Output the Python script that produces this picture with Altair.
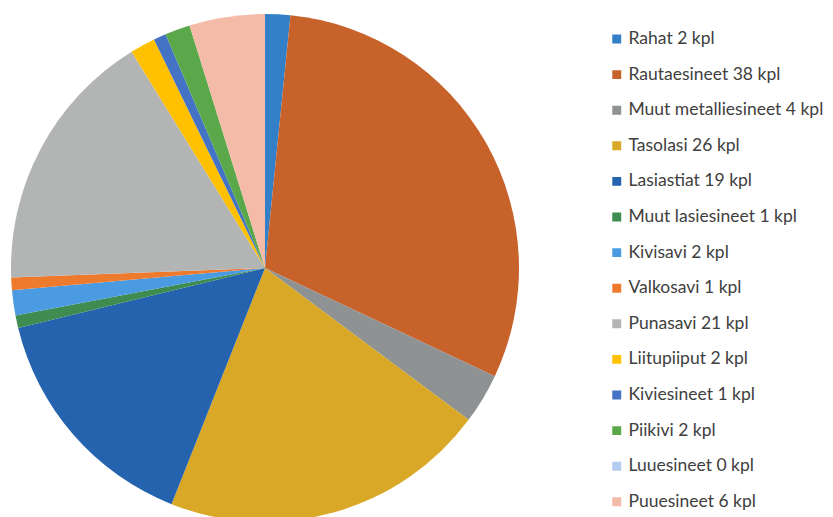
import altair as alt
import pandas as pd

names = ["Rahat", "Rautaesineet", "Muut metalliesineet", "Tasolasi", "Lasiastiat",
         "Muut lasiesineet", "Kivisavi", "Valkosavi", "Punasavi", "Liitupiiput",
         "Kiviesineet", "Piikivi", "Luuesineet", "Puuesineet"]
counts = [2, 38, 4, 26, 19, 1, 2, 1, 21, 2, 1, 2, 0, 6]
colors = ["#3480C8", "#C8622B", "#8E9293", "#D9A826", "#2563AE", "#3E8C4F",
          "#4A9BE2", "#EE7A2E", "#B3B5B5", "#FFC000", "#4472C4", "#5AA84A",
          "#B4CCF0", "#F4BCA8"]

labels = [f"{n} {c} kpl" for n, c in zip(names, counts)]
df = pd.DataFrame({"label": labels, "count": counts, "order": list(range(len(names)))})

chart = alt.Chart(df).mark_arc(outerRadius=254, stroke=None).encode(
    theta=alt.Theta("count:Q", stack=True),
    order=alt.Order("order:Q"),
    color=alt.Color(
        "label:N",
        sort=None,
        scale=alt.Scale(domain=labels, range=colors),
        legend=alt.Legend(
            title=None,
            orient="none",
            legendX=600,
            legendY=21,
            symbolType="square",
            symbolSize=80,
            symbolStrokeWidth=0,
            labelFont="Lato",
            labelFontSize=17.5,
            labelColor="#404040",
            labelOffset=3,
            clipHeight=20,
            rowPadding=15.6,
            padding=0,
            labelLimit=300,
        ),
    ),
).properties(
    width=514,
    height=520,
    padding=0,
).configure_view(stroke=None)

chart.save("out.html", embed_options={"renderer": "svg", "actions": False})
